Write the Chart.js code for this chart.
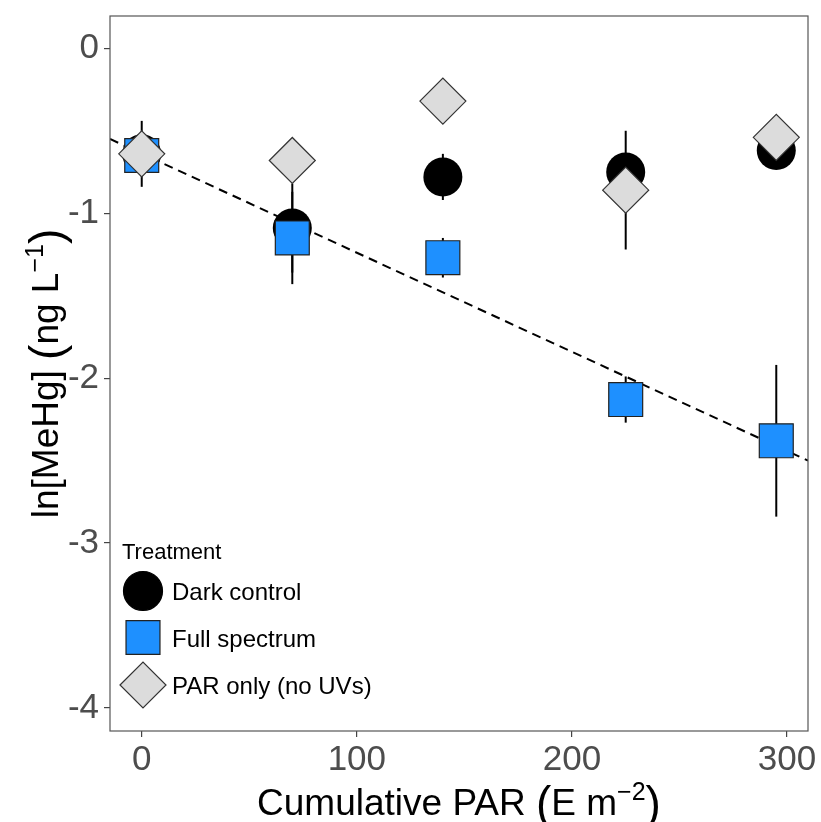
<!DOCTYPE html>
<html lang="en">
<head>
<meta charset="UTF-8" />
<title>ln[MeHg] vs cumulative PAR</title>
<script src="https://cdn.jsdelivr.net/npm/chart.js"></script>
<style>
  html, body { margin: 0; padding: 0; background: #fff; }
</style>
</head>
<body>
<canvas id="parChart" width="821" height="822"></canvas>
<script>
  // values
  const parDose  = [0, 70, 140, 225, 295];
  const darkMean = [-0.64, -1.09, -0.78, -0.75, -0.62];
  const darkErr  = [0.20, 0.27, 0.14, 0.06, 0.05];
  const fullMean = [-0.65, -1.15, -1.27, -2.13, -2.38];
  const fullErr  = [0.10, 0.28, 0.12, 0.14, 0.46];
  const parMean  = [-0.64, -0.68, -0.32, -0.86, -0.54];
  const parErr   = [0.05, 0.05, 0.04, 0.36, 0.05];
  const fitX = [-14.75, 309.75];
  const fitY = [-0.55, -2.50];
  const xTicks = [0, 100, 200, 300];
  const yTicks = [0, -1, -2, -3, -4];

  const FONT = "'Liberation Sans', Arial, Helvetica, sans-serif";

  function pts(xs, ys) {
    return xs.map((x, i) => ({ x: x, y: ys[i] }));
  }

  // error bars go under the points
  const errorBars = {
    id: 'errorBars',
    beforeDatasetsDraw(chart) {
      const c = chart.ctx, xs = chart.scales.x, ys = chart.scales.y;
      c.save();
      c.strokeStyle = '#000';
      c.lineWidth = 2;
      chart.data.datasets.forEach(ds => {
        if (!ds.errors) return;
        ds.data.forEach((p, i) => {
          const px = xs.getPixelForValue(p.x);
          c.beginPath();
          c.moveTo(px, ys.getPixelForValue(p.y + ds.errors[i]));
          c.lineTo(px, ys.getPixelForValue(p.y - ds.errors[i]));
          c.stroke();
        });
      });
      c.restore();
    }
  };

  const panelBorder = {
    id: 'panelBorder',
    afterDraw(chart) {
      const a = chart.chartArea, c = chart.ctx;
      c.save();
      c.strokeStyle = '#555';
      c.lineWidth = 1.2;
      c.strokeRect(a.left, a.top, a.right - a.left, a.bottom - a.top);
      c.restore();
    }
  };

  const legendBox = {
    id: 'legendBox',
    afterDraw(chart) {
      const c = chart.ctx;
      c.save();
      c.fillStyle = '#000';
      c.textAlign = 'left';
      c.textBaseline = 'alphabetic';
      c.font = '22px ' + FONT;
      c.fillText('Treatment', 122, 559);
      const items = [
        { label: 'Dark control', style: 'circle', r: 19.5, fill: '#000', line: '#000', y: 591 },
        { label: 'Full spectrum', style: 'rect', r: 24, fill: '#1e90ff', line: '#222', y: 637.5 },
        { label: 'PAR only (no UVs)', style: 'rectRot', r: 23, fill: '#dcdcdc', line: '#333', y: 685 }
      ];
      items.forEach(it => {
        c.fillStyle = it.fill;
        c.strokeStyle = it.line;
        c.lineWidth = 1.2;
        Chart.helpers.drawPoint(c, { pointStyle: it.style, radius: it.r, rotation: 0, borderWidth: 1.2 }, 143, it.y);
        c.fillStyle = '#000';
        c.font = '24px ' + FONT;
        c.fillText(it.label, 172, it.y + 9);
      });
      c.restore();
    }
  };

  // axis titles with superscripts and tall brackets
  function drawRich(c, parts) {
    let w = 0;
    parts.forEach(p => {
      c.font = p.size + 'px ' + FONT;
      p.w = c.measureText(p.t).width;
      w += p.w;
    });
    let x = -w / 2;
    parts.forEach(p => {
      c.font = p.size + 'px ' + FONT;
      c.fillText(p.t, x, p.dy || 0);
      x += p.w;
    });
  }

  const axisTitles = {
    id: 'axisTitles',
    afterDraw(chart) {
      const c = chart.ctx, a = chart.chartArea;
      c.save();
      c.fillStyle = '#000';
      c.textAlign = 'left';
      c.textBaseline = 'alphabetic';
      c.translate((a.left + a.right) / 2, 815);
      drawRich(c, [
        { t: 'Cumulative PAR ', size: 37 },
        { t: '(', size: 46, dy: 4 },
        { t: 'E m', size: 37 },
        { t: '\u22122', size: 25, dy: -15 },
        { t: ')', size: 46, dy: 4 }
      ]);
      c.restore();

      c.save();
      c.fillStyle = '#000';
      c.textAlign = 'left';
      c.textBaseline = 'alphabetic';
      c.translate(58, (a.top + a.bottom) / 2);
      c.rotate(-Math.PI / 2);
      drawRich(c, [
        { t: 'ln[MeHg] ', size: 37 },
        { t: '(', size: 46, dy: 4 },
        { t: 'ng L', size: 37 },
        { t: '\u22121', size: 25, dy: -15 },
        { t: ')', size: 46, dy: 4 }
      ]);
      c.restore();
    }
  };

  const tickGrid = { display: true, drawOnChartArea: false, drawTicks: true, tickLength: 6, color: '#444', lineWidth: 1.2 };
  const tickFont = { family: FONT, size: 35 };

  new Chart(document.getElementById('parChart'), {
    type: 'scatter',
    data: {
      datasets: [
        {
          label: 'PAR only (no UVs)',
          data: pts(parDose, parMean),
          errors: parErr,
          pointStyle: 'rectRot',
          pointRadius: 23,
          pointHoverRadius: 23,
          backgroundColor: '#dcdcdc',
          borderColor: '#333',
          borderWidth: 1.2,
          order: 1
        },
        {
          label: 'Full spectrum',
          data: pts(parDose, fullMean),
          errors: fullErr,
          pointStyle: 'rect',
          pointRadius: 24,
          pointHoverRadius: 24,
          backgroundColor: '#1e90ff',
          borderColor: '#222',
          borderWidth: 1.2,
          order: 2
        },
        {
          label: 'Dark control',
          data: pts(parDose, darkMean),
          errors: darkErr,
          pointStyle: 'circle',
          pointRadius: 19.5,
          pointHoverRadius: 19.5,
          backgroundColor: '#000',
          borderColor: '#000',
          borderWidth: 0,
          order: 3
        },
        {
          type: 'line',
          label: 'fit',
          data: pts(fitX, fitY),
          showLine: true,
          borderColor: '#000',
          borderWidth: 2,
          borderDash: [9, 6],
          pointRadius: 0,
          fill: false,
          order: 4
        }
      ]
    },
    options: {
      responsive: false,
      animation: false,
      events: [],
      layout: { autoPadding: false, padding: { top: 16, right: 13, left: 0, bottom: 0 } },
      plugins: { legend: { display: false }, tooltip: { enabled: false } },
      scales: {
        x: {
          type: 'linear',
          min: fitX[0],
          max: fitX[1],
          afterBuildTicks: s => { s.ticks = xTicks.map(v => ({ value: v })); },
          afterFit: s => { s.height = 91; s.paddingLeft = 0; s.paddingRight = 0; },
          grid: tickGrid,
          border: { display: false },
          ticks: { color: '#4d4d4d', font: tickFont, padding: 2, maxRotation: 0 }
        },
        y: {
          type: 'linear',
          min: -4.14,
          max: 0.196,
          afterBuildTicks: s => { s.ticks = yTicks.map(v => ({ value: v })); },
          afterFit: s => { s.width = 110; s.paddingTop = 0; s.paddingBottom = 0; },
          grid: tickGrid,
          border: { display: false },
          ticks: { color: '#4d4d4d', font: tickFont, padding: 5 }
        }
      }
    },
    plugins: [errorBars, panelBorder, legendBox, axisTitles]
  });
</script>
</body>
</html>
